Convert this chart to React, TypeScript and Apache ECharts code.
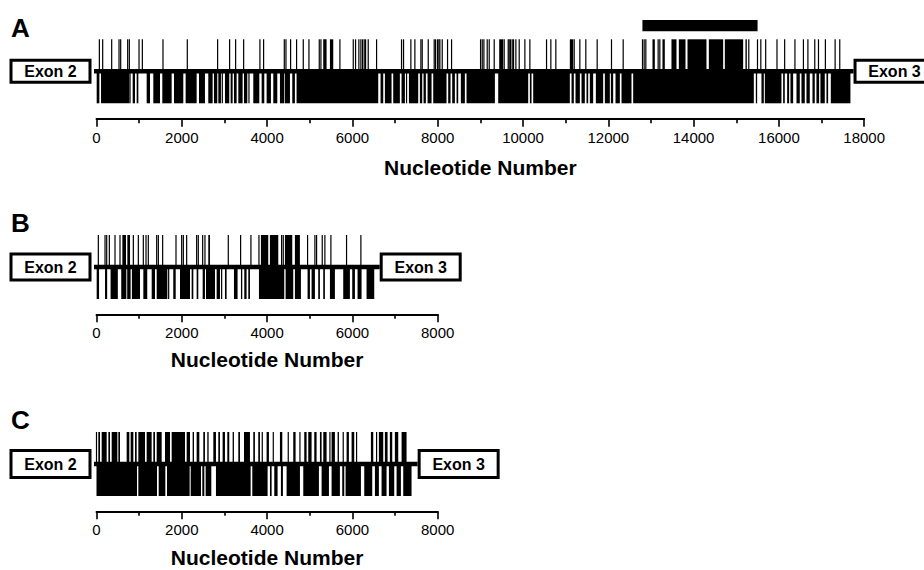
import React, { useEffect, useRef } from "react";
import * as echarts from "echarts";

type Mark = number | [number, number];

// ---------- data (nucleotide positions) ----------
const panelLabels = ["A", "B", "C"];
const axisMax = [18000, 8000, 8000];
const tickInterval = 2000;
const exon2End = -110;
const exon3Start = [17750, 6640, 7530];
const axisTitle = "Nucleotide Number";
const aBar: [number, number] = [12800, 15500];

const aTop: Mark[] = [
  67, 145, 356, 528, 567, 731, 770, 997, 1075, 1559, 2129, 2840, 3121, 3262, 3450, 3832, 3918, 4403, 4442,
  4551, 4691, 4848, 4981, 5223, 5262, [5316, 5395], [5473, 5551], 5707, 6020, 6074, 6152, 6199, 6238, 6277,
  6309, 6371, 6567, 7152, 7199, 7371, 7465, 7606, 7637, 7778, 7918, 7950, 7996, 8028, 8051, 8106, 8231, 8325,
  9005, 9044, 9083, 9161, 9208, 9325, [9442, 9536], 9559, 9653, 9677, 9708, 9747, 9778, 9833, 9911, 10044,
  10161, 10552, 10653, 10770, [11098, 11177], 11200, 11333, 11473, 11739, 12075, 12349, 12802, 12841, 12880,
  [13036, 13091], 13169, 13208, [13270, 13325], [13481, 13599], [13654, 13810], [13857, 14302], [14357, 14693],
  [14732, 15162], [15216, 15248], 15294, 15498, 15576, 15690, 15955, 16135, 16376, 16575, 16680, 16841, 16928,
  17090, 17318, 17427,
];
const aBottom: Mark[] = [
  [4, 67], [106, 770], [786, 809], [848, 903], [942, 981], [1176, 1254], [1332, 1489], [1543, 1762],
  [1817, 2035], [2090, 2348], [2403, 2543], [2621, 2723], [2754, 2832], [2856, 2918], [2950, 2973],
  [3012, 3113], [3145, 3192], [3223, 3286], [3325, 3426], [3458, 3536], [3575, 3598], [3676, 3817],
  [3872, 3934], [3989, 4090], [4145, 4239], [4301, 4403], [4418, 4536], [4590, 4652], [4691, 6606],
  [6660, 6723], [6762, 6918], [6957, 7113], [7152, 7231], [7270, 7293], [7325, 7543], [7582, 7637],
  [7668, 7723], [7762, 7856], [7895, 8207], [8246, 8301], [8340, 8403], [8442, 8481], [8543, 8637],
  [8676, 9341], [9419, 10122], [10161, 10200], [10239, 11098], [11138, 11192], [11231, 11333], [11372, 11450],
  [11489, 11528], [11567, 11645], [11708, 11880], [11919, 12036], [12060, 12114], [12169, 12271],
  [12310, 12544], [12583, 15412], [15459, 15490], [15591, 15646], [15670, 16060], [16099, 16138],
  [16193, 16240], [16271, 16334], [16412, 16490], [16529, 16607], [16646, 16724], [16787, 16841],
  [16880, 16943], [16974, 17076], [17115, 17154], [17217, 17677],
];

const bTop: Mark[] = [
  43, 200, 239, 301, 434, 551, [606, 692], [723, 786], 864, 981, 1098, 1161, 1215, 1411, 1450, 1551, 1864,
  1997, 2036, 2114, 2348, 2387, 2489, 2543, [2621, 2660], 3090, 3379, 3621, 3809, [3855, 4027], [4066, 4262],
  4340, 4379, [4418, 4590], [4652, 4769], 4949, 5121, 5160, 5293, 5355, 5496, 5863, 6199,
];
const bBottom: Mark[] = [
  [4, 60], [200, 250], [330, 500], [580, 700], [720, 800], [830, 1020], [1098, 1190], [1294, 1372],
  [1411, 1661], [1692, 1708], [1800, 1857], [1958, 2192], [2231, 2270], [2348, 2387], [2489, 2543],
  [2567, 2778], [2817, 2895], [2934, 2957], [3012, 3051], [3223, 3308], [3387, 3418], [3465, 3519],
  [3559, 3598], [3809, 4402], [4434, 4613], [4652, 4793], [4949, 5004], [5043, 5121], [5199, 5238],
  [5316, 5355], [5473, 5590], [5785, 5941], [5996, 6059], [6121, 6215], [6332, 6512],
];

const cTop: Mark[] = [
  [0, 4], [43, 82], [121, 239], [278, 317], [356, 489], [512, 551], [707, 770], [801, 864], [903, 942],
  [981, 1137], [1176, 1293], [1332, 1372], [1411, 1528], [1606, 1723], [1762, 2075], [2114, 2192],
  [2254, 2286], [2348, 2411], [2504, 2543], [2598, 2629], [2739, 2801], [2856, 2895], [2957, 3012],
  [3067, 3113], [3192, 3223], [3325, 3364], [3458, 3598], [3676, 3715], [3793, 3832], 3887, [3988, 4043],
  4145, [4301, 4356], 4496, [4613, 4668], 4770, [4871, 4926], [4965, 5043], [5106, 5160], [5239, 5278],
  [5317, 5395], 5473, [5512, 5590], [5653, 5684], 5785, [5864, 5918], [5981, 6043], 6098, [6434, 6489],
  6567, [6621, 6723], [6762, 6825], [6879, 6934], [6996, 7075], [7153, 7270],
];
const cBottom: Mark[] = [
  [0, 950], [981, 1418], [1458, 1614], [1653, 2184], [2208, 2450], [2481, 2528], [2559, 2692],
  [2801, 3614], [3653, 4012], [4067, 4106], [4168, 4246], [4324, 4371], [4457, 4770], [4848, 5215],
  [5278, 5450], [5512, 5707], [5762, 5809], [5840, 6200], [6278, 6465], [6528, 6621], [6684, 6801],
  [6856, 6981], [7036, 7137], [7192, 7387],
];

const topMarks = [aTop, bTop, cTop];
const bottomMarks = [aBottom, bBottom, cBottom];

// ---------- layout ----------
const SCALE = 0.04265; // px per nucleotide
const LEFT = 96.5;
const lineY = [71.3, 267, 464];
const UNIT = 32; // px per y unit
const Y_MIN = -1.48;
const boxH = [25, 29, 30];
const letterY = [27.5, 223, 420];
const nameGaps = [38, 35, 36];
const FONT = "'Liberation Sans', Arial, Helvetica, sans-serif";

function toItems(marks: Mark[], lo: number, hi: number) {
  return marks.map((m) => (Array.isArray(m) ? [m[0], m[1], lo, hi] : [m, m, lo, hi]));
}

export default function App() {
  const ref = useRef<HTMLDivElement>(null);
  useEffect(() => {
    const chart = echarts.init(ref.current!, null, { renderer: "svg" });
    const grids = lineY.map((ly, i) => ({
      left: LEFT,
      top: ly - UNIT,
      width: axisMax[i] * SCALE,
      height: UNIT * (1 - Y_MIN),
      outerBoundsMode: "none",
      containLabel: false,
    }));
    const xAxes = lineY.map((_, i) => ({
      gridIndex: i,
      type: "value",
      min: 0,
      max: axisMax[i],
      interval: tickInterval,
      axisLine: { show: true, onZero: false, lineStyle: { color: "#000", width: 2 } },
      axisTick: { show: true, length: 8, lineStyle: { color: "#000", width: 1.6 } },
      minorTick: { show: true, splitNumber: 2, length: 4.5, lineStyle: { color: "#000", width: 1.6 } },
      axisLabel: {
        color: "#000",
        fontSize: 15,
        fontFamily: FONT,
        margin: 11,
        formatter: (v: number) => String(v),
      },
      splitLine: { show: false },
      minorSplitLine: { show: false },
      name: axisTitle,
      nameLocation: "middle",
      nameGap: nameGaps[i],
      nameTextStyle: { fontSize: 21, fontWeight: "bold", color: "#000", fontFamily: FONT },
    }));
    const yAxes = lineY.map((_, i) => ({ gridIndex: i, type: "value", min: Y_MIN, max: 1, show: false }));

    const renderItem = (_params: any, api: any) => {
      const s = api.value(0), e = api.value(1), lo = api.value(2), hi = api.value(3);
      const p0 = api.coord([s, lo]);
      const p1 = api.coord([e, hi]);
      const raw = p1[0] - p0[0];
      const w = Math.max(1.2, raw);
      const x = raw < 1.2 ? p0[0] - 0.6 : p0[0];
      return {
        type: "rect",
        shape: { x, y: Math.min(p0[1], p1[1]), width: w, height: Math.abs(p1[1] - p0[1]) },
        style: { fill: "#000" },
      };
    };

    const series: any[] = [];
    lineY.forEach((_, i) => {
      series.push({
        type: "line",
        xAxisIndex: i,
        yAxisIndex: i,
        data: [[exon2End, 0], [exon3Start[i], 0]],
        symbol: "none",
        clip: false,
        silent: true,
        lineStyle: { color: "#000", width: 4.5 },
        z: 1,
      });
      const items = [...toItems(topMarks[i], 0, 1), ...toItems(bottomMarks[i], -1, 0)];
      if (i === 0) items.push([aBar[0], aBar[1], 1.25, 1.6]);
      series.push({
        type: "custom",
        xAxisIndex: i,
        yAxisIndex: i,
        data: items,
        encode: { x: [0, 1], y: [2, 3] },
        clip: false,
        silent: true,
        renderItem,
        z: 2,
      });
    });

    chart.setOption({
      animation: false,
      backgroundColor: "#fff",
      grid: grids,
      xAxis: xAxes,
      yAxis: yAxes,
      series,
    });

    const graphics: any[] = [];
    lineY.forEach((ly, i) => {
      const h = boxH[i];
      const x3 = (chart.convertToPixel({ gridIndex: i } as any, [exon3Start[i], 0]) as number[])[0];
      const boxes = [
        { left: 9.5, label: "Exon 2" },
        { left: x3, label: "Exon 3" },
      ];
      boxes.forEach((b) => {
        graphics.push({
          type: "rect",
          z: 100,
          shape: { x: b.left + 1.5, y: ly - h / 2 + 1.5, width: 79, height: h - 3 },
          style: { fill: "#fff", stroke: "#000", lineWidth: 3 },
        });
        graphics.push({
          type: "text",
          z: 101,
          x: b.left + 41,
          y: ly,
          style: {
            text: b.label,
            fill: "#000",
            fontSize: 16,
            fontWeight: "bold",
            fontFamily: FONT,
            align: "center",
            verticalAlign: "middle",
            textAlign: "center",
            textVerticalAlign: "middle",
          },
        });
      });
      graphics.push({
        type: "text",
        z: 101,
        x: 11,
        y: letterY[i],
        style: {
          text: panelLabels[i],
          fill: "#000",
          fontSize: 26,
          fontWeight: "bold",
          fontFamily: FONT,
          align: "left",
          verticalAlign: "middle",
          textAlign: "left",
          textVerticalAlign: "middle",
        },
      });
    });
    chart.setOption({ graphic: graphics });

    return () => chart.dispose();
  }, []);
  return (
    <div
      ref={ref}
      style={{ position: "fixed", left: 0, top: 0, width: 924, height: 570, background: "#fff" }}
    />
  );
}
